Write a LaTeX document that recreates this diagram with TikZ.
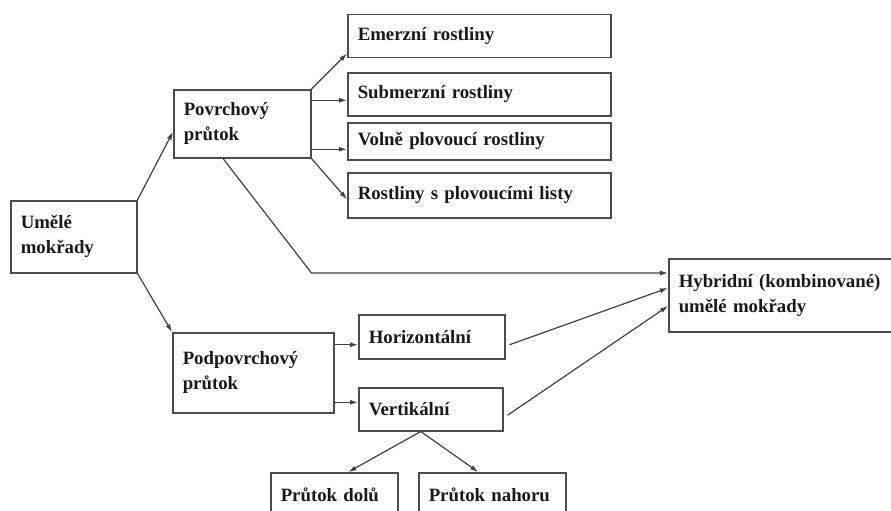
\documentclass[tikz,border=0pt]{standalone}
\usepackage{fontspec}
\setmainfont{Liberation Serif}
\usetikzlibrary{arrows.meta}
\tikzset{
  BoxStyle/.style={draw=black!70, line width=1.5pt, anchor=north west, align=left,
    inner xsep=10pt, inner ysep=0pt, text=black!90,
    font=\fontsize{18.8}{25}\selectfont\bfseries},
  EdgeStyle/.style={draw=black!75, line width=1.2pt, -{Latex[length=8pt,width=5pt]}}
}
\begin{document}
\begin{tikzpicture}[x=1pt,y=-1pt]
\useasboundingbox (0,0) rectangle (891,511);
\clip (0,0) rectangle (891,511);
\node[BoxStyle, text width=106pt, minimum height=72pt] (uml) at (10,200) {Umělé\\mokřady};
\node[BoxStyle, text width=117pt, minimum height=68pt] (pov) at (173,89) {Povrchový\\průtok};
\node[BoxStyle, text width=243pt, minimum height=43pt] (emr) at (347,14) {Emerzní rostliny};
\node[BoxStyle, text width=243pt, minimum height=43pt] (sub) at (347,72) {Submerzní rostliny};
\node[BoxStyle, text width=243pt, minimum height=37pt] (vol) at (347,122) {Volně plovoucí rostliny};
\node[BoxStyle, text width=243pt, minimum height=45pt] (rst) at (347,172) {Rostliny s plovoucími listy};
\node[BoxStyle, text width=220pt, minimum height=73pt] (hyb) at (668,258) {Hybridní (kombinované)\\umělé mokřady};
\node[BoxStyle, text width=141pt, minimum height=80pt] (pod) at (172,332) {Podpovrchový\\průtok};
\node[BoxStyle, text width=126pt, minimum height=44pt] (hor) at (358,314) {Horizontální};
\node[BoxStyle, text width=124pt, minimum height=43pt] (ver) at (358,387) {Vertikální};
\node[BoxStyle, text width=107pt, minimum height=44pt] (dol) at (270,472) {Průtok dolů};
\node[BoxStyle, text width=127pt, minimum height=44pt] (nah) at (418,472) {Průtok nahoru};
\coordinate (hyA) at ([yshift=-15pt]hyb.north west);
\draw[EdgeStyle] (uml.north east) -- ([yshift=-8pt]pov.west);
\draw[EdgeStyle] (uml.south east) -- (pod.north west);
\draw[EdgeStyle] (pov.north east) -- ([yshift=5pt]emr.south west);
\draw[EdgeStyle] ([yshift=-6pt]pov.east |- sub.west) -- ([yshift=-6pt]sub.west);
\draw[EdgeStyle] ([yshift=-8pt]pov.east |- vol.west) -- ([yshift=-8pt]vol.west);
\draw[EdgeStyle] (pov.south east) -- ([yshift=-4pt]rst.west);
\draw[EdgeStyle] ([xshift=50pt]pov.south west) -- (pov.east |- hyA) -- (hyA);
\draw[EdgeStyle] ([yshift=-8pt]pod.east |- hor.west) -- ([yshift=-8pt]hor.west);
\draw[EdgeStyle] ([yshift=7pt]pod.east |- ver.west) -- ([yshift=7pt]ver.west);
\draw[EdgeStyle] ([shift={(4pt,-8pt)}]hor.east) -- ([yshift=-30pt]hyb.north west);
\draw[EdgeStyle] ([shift={(4pt,-6pt)}]ver.east) -- ([yshift=-48pt]hyb.north west);
\draw[EdgeStyle] ([xshift=-10pt]ver.south) -- ([xshift=14pt]dol.north);
\draw[EdgeStyle] ([xshift=-10pt]ver.south) -- ([xshift=-14pt]nah.north);
\end{tikzpicture}
\end{document}
